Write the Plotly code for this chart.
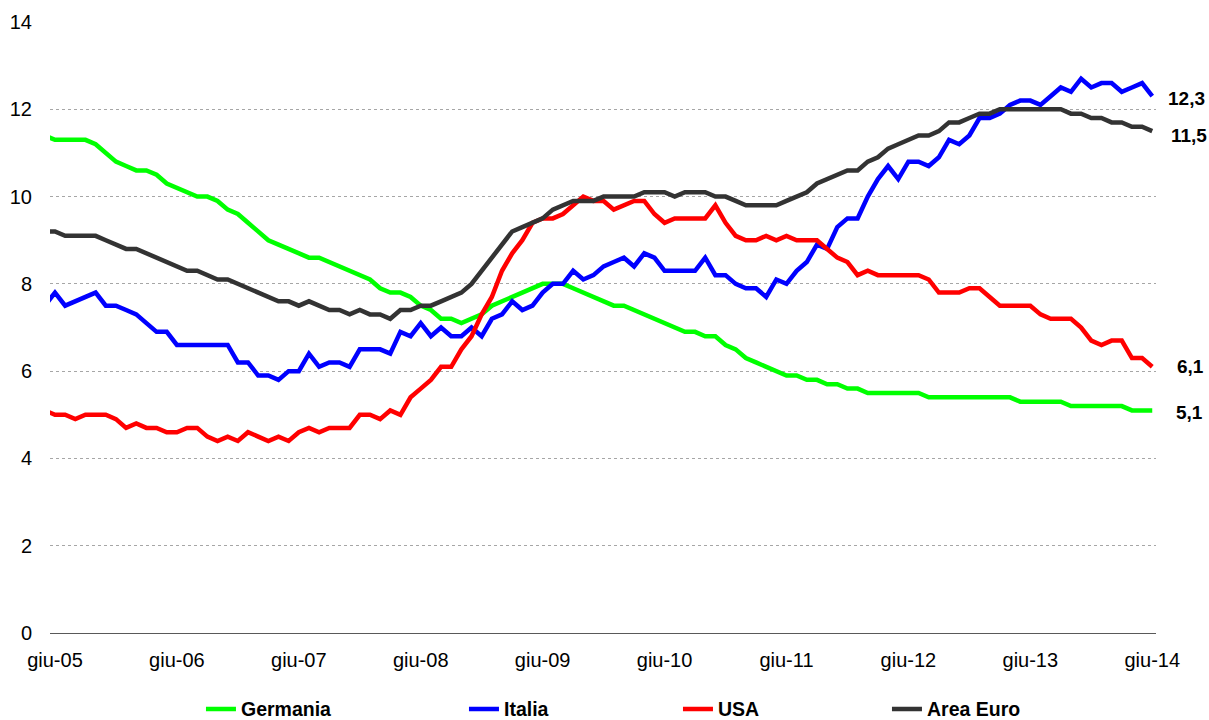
import plotly.graph_objects as go

# month index: -1 = mag-05 (clipped at left edge), 0 = giu-05 ... 108 = giu-14
months = list(range(-1, 109))
tick_months = [0, 12, 24, 36, 48, 60, 72, 84, 96, 108]
tick_labels = ["giu-05", "giu-06", "giu-07", "giu-08", "giu-09",
               "giu-10", "giu-11", "giu-12", "giu-13", "giu-14"]

germania = [11.4, 11.3, 11.3, 11.3, 11.3, 11.2, 11.0, 10.8, 10.7, 10.6, 10.6, 10.5, 10.3, 10.2, 10.1, 10.0, 10.0, 9.9, 9.7, 9.6,
            9.4, 9.2, 9.0, 8.9, 8.8, 8.7, 8.6, 8.6, 8.5, 8.4, 8.3, 8.2, 8.1, 7.9, 7.8, 7.8, 7.7, 7.5, 7.4,
            7.2, 7.2, 7.1, 7.2, 7.3, 7.5, 7.6, 7.7, 7.8, 7.9, 8.0, 8.0, 8.0, 7.9, 7.8, 7.7, 7.6, 7.5, 7.5,
            7.4, 7.3, 7.2, 7.1, 7.0, 6.9, 6.9, 6.8, 6.8, 6.6, 6.5, 6.3, 6.2, 6.1, 6.0, 5.9, 5.9, 5.8,
            5.8, 5.7, 5.7, 5.6, 5.6, 5.5, 5.5, 5.5, 5.5, 5.5, 5.5,
            5.4, 5.4, 5.4, 5.4, 5.4, 5.4, 5.4, 5.4, 5.4,
            5.3, 5.3, 5.3, 5.3, 5.3, 5.2, 5.2, 5.2, 5.2, 5.2, 5.2, 5.1, 5.1, 5.1]

italia = [7.5, 7.8, 7.5, 7.6, 7.7, 7.8, 7.5, 7.5, 7.4, 7.3, 7.1, 6.9, 6.9, 6.6, 6.6, 6.6, 6.6, 6.6, 6.6, 6.2,
          6.2, 5.9, 5.9, 5.8, 6.0, 6.0, 6.4, 6.1, 6.2, 6.2, 6.1, 6.5, 6.5, 6.5, 6.4, 6.9, 6.8, 7.1, 6.8,
          7.0, 6.8, 6.8, 7.0, 6.8, 7.2, 7.3, 7.6, 7.4, 7.5, 7.8, 8.0, 8.0, 8.3, 8.1, 8.2, 8.4, 8.5, 8.6,
          8.4, 8.7, 8.6, 8.3, 8.3, 8.3, 8.3, 8.6, 8.2, 8.2, 8.0, 7.9, 7.9, 7.7, 8.1, 8.0, 8.3, 8.5,
          8.9, 8.8, 9.3, 9.5, 9.5, 10.0, 10.4, 10.7, 10.4, 10.8, 10.8, 10.7, 10.9, 11.3, 11.2, 11.4, 11.8, 11.8, 11.9,
          12.1, 12.2, 12.2, 12.1, 12.3, 12.5, 12.4, 12.7, 12.5, 12.6, 12.6, 12.4, 12.5, 12.6, 12.3]

usa = [5.1, 5.0, 5.0, 4.9, 5.0, 5.0, 5.0, 4.9, 4.7, 4.8, 4.7, 4.7, 4.6, 4.6, 4.7, 4.7, 4.5, 4.4, 4.5, 4.4,
       4.6, 4.5, 4.4, 4.5, 4.4, 4.6, 4.7, 4.6, 4.7, 4.7, 4.7, 5.0, 5.0, 4.9, 5.1, 5.0, 5.4, 5.6, 5.8,
       6.1, 6.1, 6.5, 6.8, 7.3, 7.7, 8.3, 8.7, 9.0, 9.4, 9.5, 9.5, 9.6, 9.8, 10.0, 9.9, 9.9, 9.7, 9.8,
       9.9, 9.9, 9.6, 9.4, 9.5, 9.5, 9.5, 9.5, 9.8, 9.4, 9.1, 9.0, 9.0, 9.1, 9.0, 9.1, 9.0, 9.0,
       9.0, 8.8, 8.6, 8.5, 8.2, 8.3, 8.2, 8.2, 8.2, 8.2, 8.2, 8.1, 7.8, 7.8, 7.8, 7.9, 7.9, 7.7, 7.5,
       7.5, 7.5, 7.5, 7.3, 7.2, 7.2, 7.2, 7.0, 6.7, 6.6, 6.7, 6.7, 6.3, 6.3, 6.1]

area_euro = [9.2, 9.2, 9.1, 9.1, 9.1, 9.1, 9.0, 8.9, 8.8, 8.8, 8.7, 8.6, 8.5, 8.4, 8.3, 8.3, 8.2, 8.1, 8.1, 8.0,
             7.9, 7.8, 7.7, 7.6, 7.6, 7.5, 7.6, 7.5, 7.4, 7.4, 7.3, 7.4, 7.3, 7.3, 7.2, 7.4, 7.4, 7.5, 7.5,
             7.6, 7.7, 7.8, 8.0, 8.3, 8.6, 8.9, 9.2, 9.3, 9.4, 9.5, 9.7, 9.8, 9.9, 9.9, 9.9, 10.0, 10.0, 10.0,
             10.0, 10.1, 10.1, 10.1, 10.0, 10.1, 10.1, 10.1, 10.0, 10.0, 9.9, 9.8, 9.8, 9.8, 9.8, 9.9, 10.0, 10.1,
             10.3, 10.4, 10.5, 10.6, 10.6, 10.8, 10.9, 11.1, 11.2, 11.3, 11.4, 11.4, 11.5, 11.7, 11.7, 11.8, 11.9, 11.9, 12.0,
             12.0, 12.0, 12.0, 12.0, 12.0, 12.0, 11.9, 11.9, 11.8, 11.8, 11.7, 11.7, 11.6, 11.6, 11.5]

series_names = ["Germania", "Italia", "USA", "Area Euro"]
series_values = [germania, italia, usa, area_euro]
series_colors = ["#00FF00", "#0000FF", "#FF0000", "#333333"]
legend_widths = [218, 169, 164, 100]
label_yshift = [-2, -2, 0, -4]
label_xshift = [22, 14, 23, 17]

FONT = "Arial, Liberation Sans, sans-serif"

fig = go.Figure()
for name, vals, col, lw in zip(series_names, series_values, series_colors, legend_widths):
    fig.add_trace(go.Scatter(x=months, y=vals, mode="lines", name=name,
                             line=dict(color=col, width=4.5), hoverinfo="skip",
                             legendwidth=lw))

for vals, xs, ys in zip(series_values, label_xshift, label_yshift):
    fig.add_annotation(x=months[-1], y=vals[-1], xref="x", yref="y",
                       text=f"{vals[-1]:.1f}".replace(".", ","),
                       showarrow=False, xanchor="left", yanchor="middle",
                       xshift=xs, yshift=ys,
                       font=dict(family=FONT, size=19, color="#000000", weight="bold"))

fig.update_layout(
    width=1209, height=720,
    margin=dict(l=50, r=53, t=22, b=87, autoexpand=False),
    paper_bgcolor="white", plot_bgcolor="white",
    font=dict(family=FONT, size=19, color="#000000"),
    showlegend=True,
    legend=dict(orientation="h", x=0.1365, xanchor="left",
                yref="container", y=0.015, yanchor="middle",
                font=dict(family=FONT, size=19.5, color="#000000", weight="bold"),
                itemwidth=30, traceorder="normal", bgcolor="rgba(0,0,0,0)"),
)
fig.update_xaxes(range=[-0.49, 108.37], tickmode="array", tickvals=tick_months, ticktext=tick_labels,
                 showgrid=False, zeroline=False, showline=False, ticks="", automargin=False,
                 tickfont=dict(family=FONT, size=20, color="#000000"), ticklabelstandoff=13)
fig.update_yaxes(range=[0, 14], tickmode="array", tickvals=[0, 2, 4, 6, 8, 10, 12, 14],
                 showgrid=True, gridcolor="#A6A6A6", griddash="dot", gridwidth=1,
                 zeroline=True, zerolinecolor="#595959", zerolinewidth=1,
                 showline=False, ticks="", ticklabelstandoff=17, automargin=False,
                 tickfont=dict(family=FONT, size=20, color="#000000"))

fig.write_html("out.html", config={"displayModeBar": False},
               post_script="document.body.style.margin='0';")
